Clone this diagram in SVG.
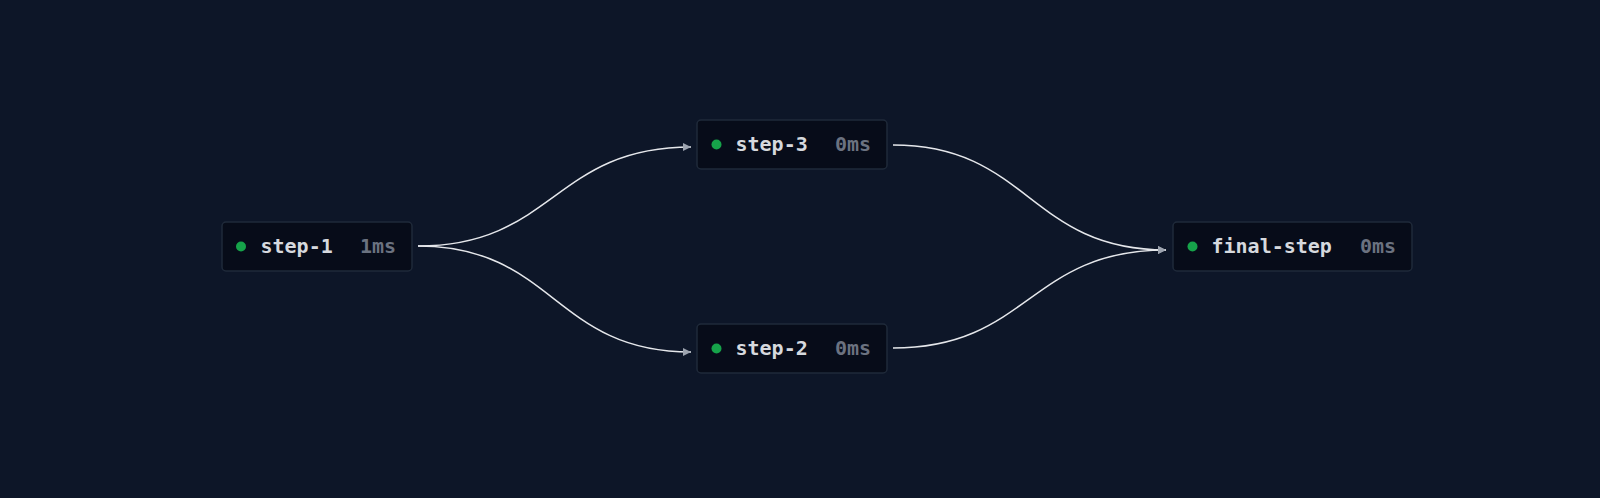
<svg xmlns="http://www.w3.org/2000/svg" width="1600" height="498" viewBox="0 0 1600 498">
<defs>
<style>
.box{fill:#070c19;stroke:#1f2a3a;stroke-width:1.5}
.dot{fill:#16a34a}
.name{font-family:"DejaVu Sans Mono","Liberation Mono",monospace;font-weight:bold;font-size:20px;fill:#d6d9de}
.ms{font-family:"DejaVu Sans Mono","Liberation Mono",monospace;font-weight:bold;font-size:20px;fill:#6b7280;text-anchor:end}
.edge{fill:none;stroke:#e5e7eb;stroke-width:1.5}
</style>
<marker id="arr" viewBox="0 0 10 10" refX="10" refY="5" markerWidth="8" markerHeight="8" markerUnits="userSpaceOnUse" orient="auto">
<path d="M0,0 L10,5 L0,10 z" fill="#9ca3af"/>
</marker>
</defs>
<rect width="1600" height="498" fill="#0d1628"/>
<g id="connectors">
<path class="edge" marker-end="url(#arr)" d="M418,246 C554,246 554,147 691,147"/>
<path class="edge" marker-end="url(#arr)" d="M418,246 C554,246 554,352 691,352"/>
<path class="edge" marker-end="url(#arr)" d="M893,145 C1029,145 1029,250 1166,250"/>
<path class="edge" marker-end="url(#arr)" d="M893,348 C1029,348 1029,250 1166,250"/>
</g>
<g id="step-1">
<rect class="box" x="222" y="222" width="190" height="49" rx="4"/>
<circle class="dot" cx="241" cy="246.5" r="5"/>
<text class="name" x="260.5" y="253">step-1</text>
<text class="ms" x="396" y="253">1ms</text>
</g>
<g id="step-3">
<rect class="box" x="697" y="120" width="190" height="49" rx="4"/>
<circle class="dot" cx="716.5" cy="144.5" r="5"/>
<text class="name" x="735.5" y="151">step-3</text>
<text class="ms" x="871" y="151">0ms</text>
</g>
<g id="step-2">
<rect class="box" x="697" y="324" width="190" height="49" rx="4"/>
<circle class="dot" cx="716.5" cy="348.5" r="5"/>
<text class="name" x="735.5" y="355">step-2</text>
<text class="ms" x="871" y="355">0ms</text>
</g>
<g id="final-step">
<rect class="box" x="1173" y="222" width="239" height="49" rx="4"/>
<circle class="dot" cx="1192.5" cy="246.5" r="5"/>
<text class="name" x="1211.5" y="253">final-step</text>
<text class="ms" x="1396" y="253">0ms</text>
</g>
</svg>
